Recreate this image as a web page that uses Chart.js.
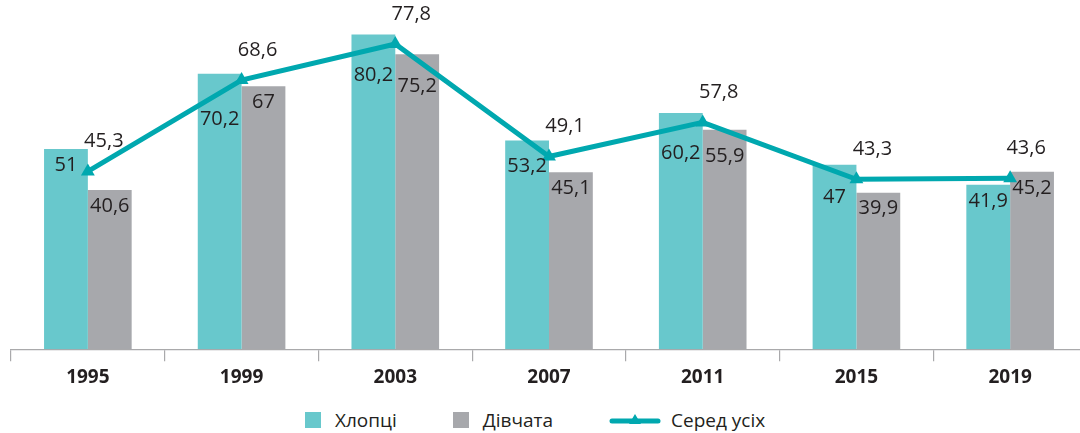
<!DOCTYPE html>
<html>
<head>
<meta charset="utf-8">
<script src="https://cdn.jsdelivr.net/npm/chart.js@4.4.1/dist/chart.umd.min.js"></script>
<style>
  html, body { margin: 0; padding: 0; background: #fff; overflow: hidden; width: 1080px; height: 433px; }
  #wrap { position: absolute; left: 0; top: 0; width: 1088px; height: 394px; }
  #legend { position: absolute; left: 305px; top: 407px; display: flex; align-items: center;
            font-family: "Open Sans", "Noto Sans", sans-serif; font-size: 19px; color: #231f20; }
  .item { display: flex; align-items: center; margin-right: 56px; }
  .sq { width: 16px; height: 16px; margin-right: 14px; }
</style>
</head>
<body>
<div id="wrap"><canvas id="chart"></canvas></div>
<div id="legend"></div>
<script>
// Дані діаграми
var years = ['1995', '1999', '2003', '2007', '2011', '2015', '2019'];
var boys = [51, 70.2, 80.2, 53.2, 60.2, 47, 41.9];
var girls = [40.6, 67, 75.2, 45.1, 55.9, 39.9, 45.2];
var total = [45.3, 68.6, 77.8, 49.1, 57.8, 43.3, 43.6];
var seriesNames = ['Хлопці', 'Дівчата', 'Серед усіх'];

var tealBar = '#68c8cc';
var grayBar = '#a7a8ac';
var lineColor = '#00a8af';
var textColor = '#231f20';
var labelFont = '20px "Open Sans", "Noto Sans", sans-serif';

function fmt(v) {
    return String(v).replace('.', ',');
}

// Підписи значень: для стовпчиків всередині, для лінії над точками
var valueLabels = {
    id: 'valueLabels',
    afterDatasetsDraw: function (chart) {
        var ctx = chart.ctx;
        var linePts = chart.getDatasetMeta(2).data;
        ctx.save();
        ctx.font = labelFont;
        ctx.fillStyle = textColor;
        ctx.textAlign = 'center';
        ctx.textBaseline = 'middle';

        // y лінії в точці x
        function lineYAt(x) {
            for (var i = 0; i < linePts.length - 1; i++) {
                var a = linePts[i], b = linePts[i + 1];
                if (x >= a.x && x <= b.x) {
                    return a.y + (b.y - a.y) * (x - a.x) / (b.x - a.x);
                }
            }
            return null;
        }

        [0, 1].forEach(function (di) {
            var meta = chart.getDatasetMeta(di);
            var vals = chart.data.datasets[di].data;
            meta.data.forEach(function (bar, i) {
                var y = bar.y + 16;
                var ly = lineYAt(bar.x);
                if (ly !== null && Math.abs(y - ly) < 16) {
                    y = ly + 26;
                }
                ctx.fillText(fmt(vals[i]), bar.x, y);
            });
        });

        linePts.forEach(function (p, i) {
            var x = Math.min(p.x + 16, chart.chartArea.right - 30);
            ctx.fillText(fmt(total[i]), x, p.y - 30);
        });
        ctx.restore();
    }
};

var ctx = document.getElementById('chart').getContext('2d');
var myChart = new Chart(ctx, {
    type: 'bar',
    data: {
        labels: years,
        datasets: [{
            label: seriesNames[0],
            data: boys,
            backgroundColor: tealBar,
            categoryPercentage: 0.57,
            barPercentage: 1,
            order: 2
        }, {
            label: seriesNames[1],
            data: girls,
            backgroundColor: grayBar,
            categoryPercentage: 0.57,
            barPercentage: 1,
            order: 2
        }, {
            type: 'line',
            label: seriesNames[2],
            data: total,
            borderColor: lineColor,
            backgroundColor: lineColor,
            borderWidth: 5,
            tension: 0,
            pointStyle: 'triangle',
            pointRadius: 8,
            pointHoverRadius: 8,
            pointBorderWidth: 0,
            order: 1
        }]
    },
    options: {
        responsive: true,
        maintainAspectRatio: false,
        animation: false,
        layout: { autoPadding: false, padding: { left: 11, right: 1, top: 0, bottom: 0 } },
        plugins: {
            legend: { display: false },
            tooltip: { enabled: false }
        },
        scales: {
            x: {
                offset: true,
                grid: {
                    display: true,
                    offset: true,
                    drawOnChartArea: false,
                    drawTicks: true,
                    tickLength: 12,
                    color: '#a9a9ab',
                    lineWidth: 1.2
                },
                border: { display: true, color: '#a9a9ab', width: 1.2 },
                ticks: {
                    color: textColor,
                    padding: 5,
                    font: { family: '"Open Sans", "Noto Sans", sans-serif', size: 19, weight: 'bold' }
                }
            },
            y: {
                display: false,
                min: 0,
                max: 89
            }
        }
    },
    plugins: [valueLabels]
});

// Легенда
var legend = document.getElementById('legend');
legend.innerHTML =
    '<div class="item"><span class="sq" style="background:' + tealBar + '"></span>' + seriesNames[0] + '</div>' +
    '<div class="item"><span class="sq" style="background:' + grayBar + '"></span>' + seriesNames[1] + '</div>' +
    '<div class="item" style="margin-right:0">' +
    '<svg width="52" height="16" style="margin-right:10px"><line x1="3" y1="9" x2="49" y2="9" stroke="' + lineColor +
    '" stroke-width="5" stroke-linecap="round"/><polygon points="26,2 32,12 20,12" fill="' + lineColor + '"/></svg>' +
    seriesNames[2] + '</div>';
</script>
</body>
</html>
